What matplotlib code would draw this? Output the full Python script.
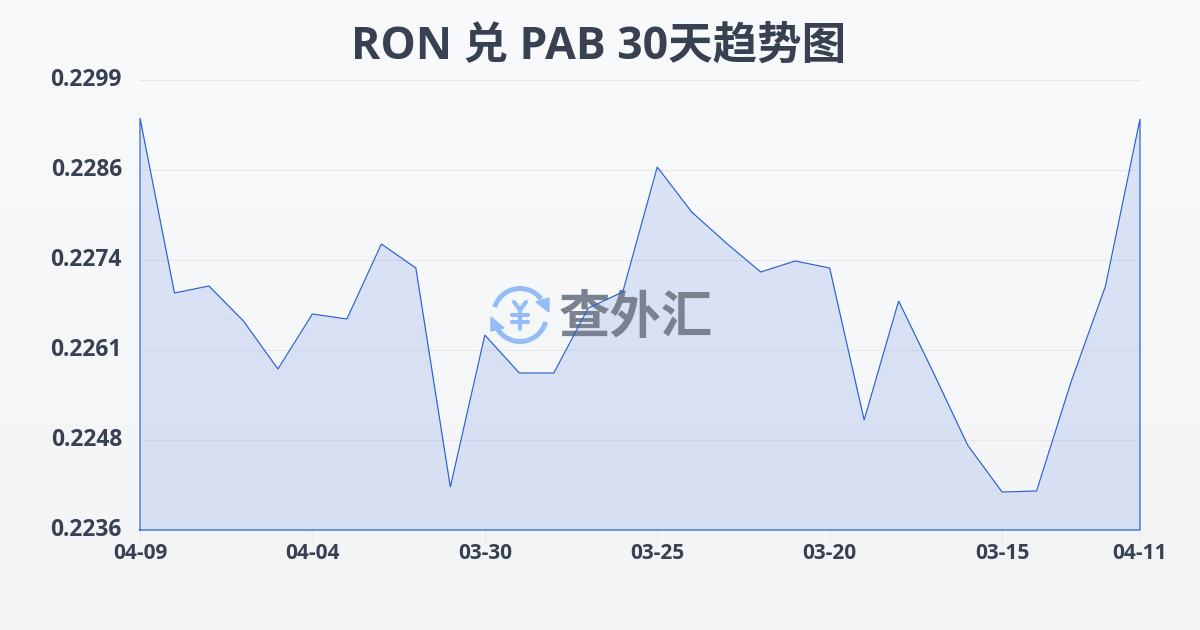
import numpy as np
import matplotlib
matplotlib.use('Agg')
import matplotlib.pyplot as plt
from matplotlib.patches import Arc, Polygon
from matplotlib.transforms import Affine2D, ScaledTranslation

# значения курса
rates = [0.229368, 0.226918, 0.227016, 0.226526, 0.225854, 0.226624, 0.226554, 0.227604,
         0.227268, 0.224202, 0.226330, 0.225798, 0.225798, 0.226708, 0.226932, 0.228682,
         0.228052, 0.227618, 0.227212, 0.227366, 0.227268, 0.225140, 0.226806, 0.225812,
         0.224790, 0.224132, 0.224146, 0.225672, 0.227016, 0.229354]
tick_idx = [0, 5, 10, 15, 20, 25, 29]
tick_dates = ['04-09', '04-04', '03-30', '03-25', '03-20', '03-15', '04-11']
y_ticks = [0.2236, 0.2248, 0.2261, 0.2274, 0.2286, 0.2299]
title = 'RON 兑 PAB 30天趋势图'

fam = ['Open Sans', 'Noto Sans CJK SC', 'DejaVu Sans']
plt.rcParams['font.family'] = fam

fig = plt.figure(figsize=(12, 6.3), dpi=100)

# фон с вертикальным градиентом
bg = fig.add_axes([0, 0, 1, 1], zorder=0)
bg.imshow(np.linspace(0, 1, 256).reshape(-1, 1), aspect='auto', extent=[0, 1, 0, 1],
          cmap=matplotlib.colors.LinearSegmentedColormap.from_list('bg', ['#f9fafc', '#f3f4f6']))
bg.axis('off')

ax = fig.add_axes([140 / 1200, 1 - 530 / 630, 1000 / 1200, 450 / 630], zorder=1)
ax.patch.set_alpha(0)
x = np.arange(len(rates))
ax.fill_between(x, rates, 0.2236, color='#2a60d8', alpha=0.14, linewidth=0, zorder=2)
ax.plot(np.r_[0, x, 29, 0], np.r_[0.2236, rates, 0.2236, 0.2236], color='#2a60d0', lw=0.85, zorder=5,
        solid_joinstyle='miter', clip_on=False)

ax.set_xlim(0, 29)
ax.set_ylim(0.2236, 0.2299)
ax.set_xticks(tick_idx)
ax.set_xticklabels(tick_dates, fontsize=15, fontweight='bold', color='#374151')
ax.set_yticks(np.linspace(0.2236, 0.2299, 6))
ax.set_yticklabels([f'{v:.4f}' for v in y_ticks], fontsize=16.4, fontweight='bold', color='#374151')
ax.tick_params(axis='y', length=0, pad=13)
ax.tick_params(axis='x', length=8, width=0.8, color='#e5e7eb', pad=1.5)
# подписи оси Y чуть выше линий сетки
shift = ScaledTranslation(0, 2.5 / 100, fig.dpi_scale_trans)
for lab in ax.get_yticklabels():
    lab.set_transform(lab.get_transform() + shift)
ax.grid(axis='y', color='#e5e7eb', lw=0.8)
ax.set_axisbelow(True)
for s in ax.spines.values():
    s.set_visible(False)

fig.text(599 / 1200, 1 - 47 / 630, title, ha='center', va='center', fontsize=32, fontweight='bold',
         color='#374151')

# логотип-водяной знак, координаты в пикселях картинки
px = Affine2D().scale(1, -1).translate(0, 630)
blue = '#94bdf8'
ax.add_patch(Arc((520, 315), 53, 53, angle=0, theta1=197, theta2=323, lw=3.6, color=blue,
                 transform=px, zorder=3, clip_on=False))
ax.add_patch(Arc((520, 315), 53, 53, angle=0, theta1=15, theta2=160, lw=3.6, color=blue,
                 transform=px, zorder=3, clip_on=False))
ax.add_patch(Polygon([(549, 298), (549, 312), (536, 302)], color=blue, transform=px, zorder=3, clip_on=False))
ax.add_patch(Polygon([(491, 317), (491, 331), (504, 328)], color=blue, transform=px, zorder=3, clip_on=False))
for xs, ys in [([514, 520, 526], [302, 310, 302]), ([512, 528], [315, 315]),
               ([512, 528], [322, 322]), ([520, 520], [310, 329])]:
    ax.plot(xs, ys, color=blue, lw=3, solid_capstyle='round', transform=px, zorder=3, clip_on=False)
ax.text(636, 318, '查外汇', transform=px, ha='center', va='center', fontsize=37, fontweight='bold',
        color='#7b828f', zorder=3, clip_on=False, family=['Noto Sans CJK SC', 'DejaVu Sans'])

fig.savefig('out.png', dpi=100)
